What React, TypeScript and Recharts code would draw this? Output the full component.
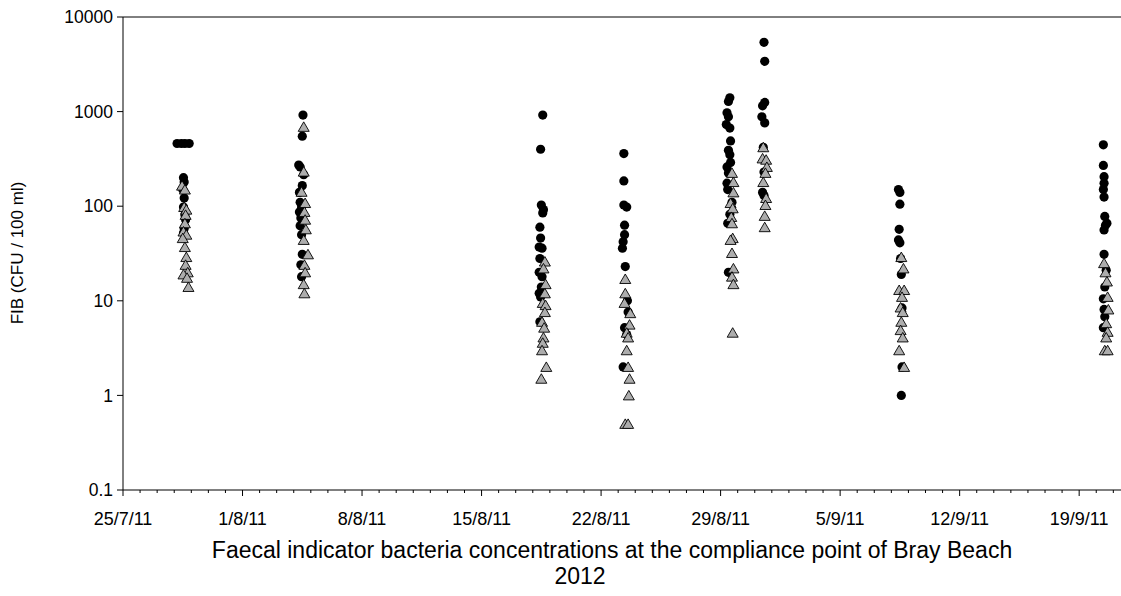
import React from "react";
import { ScatterChart, Scatter, XAxis, YAxis, ReferenceLine } from "recharts";

// [hour of day, CFU / 100 ml]
type Sample = [number, number];

const sampleDays = ["28/7/11", "4/8/11", "18/8/11", "23/8/11", "29/8/11", "31/8/11", "8/9/11", "20/9/11"];

// black circles
const ecoli: Sample[][] = [
  [[4, 460], [10, 460], [15, 460], [21, 460], [13, 200], [14, 180], [12, 150], [14, 122], [13, 98], [15, 81], [16, 72], [14, 58], [13, 52]],
  [[13, 920], [12, 550], [7, 272], [9, 260], [14, 215], [12, 165], [8, 140], [9, 110], [11, 98], [8, 87], [10, 75], [9, 62], [11, 50], [12, 31], [10, 24], [11, 18]],
  [[14, 920], [11, 400], [12, 103], [15, 92], [14, 85], [10, 60], [11, 46], [9, 37], [13, 36], [10, 28], [9, 20], [13, 18], [12, 14], [9, 12], [11, 11], [10, 6]],
  [[8, 360], [8, 185], [8, 103], [12, 98], [9, 63], [9, 50], [7, 42], [6, 36], [10, 23], [13, 10], [14, 7.6], [9, 5.2], [12, 4.4], [7, 2]],
  [[13, 1400], [11, 1280], [9, 970], [11, 880], [8, 730], [13, 670], [14, 490], [11, 390], [13, 350], [14, 290], [9, 260], [11, 225], [9, 175], [10, 150], [16, 110], [13, 82], [10, 66], [11, 20]],
  [[13, 5400], [14, 3400], [14, 1250], [11, 1150], [10, 880], [14, 760], [12, 420], [13, 230], [11, 140], [13, 130]],
  [[10, 150], [12, 140], [12, 105], [11, 57], [10, 44], [12, 41], [13, 28], [14, 19], [15, 8.4], [15, 2], [14, 1.0]],
  [[10, 445], [10, 270], [11, 205], [11, 175], [10, 150], [11, 125], [12, 78], [15, 66], [13, 63], [11, 56], [11, 31], [14, 21], [12, 14], [10, 10.5], [11, 8.1], [12, 6.8], [10, 5.2]],
];

// grey triangles
const enterococci: Sample[][] = [
  [[11, 165], [15, 150], [14, 98], [17, 92], [16, 81], [15, 66], [13, 54], [17, 50], [12, 46], [15, 37], [17, 29], [16, 24], [19, 20], [13, 19], [18, 17.5], [20, 14]],
  [[14, 690], [14, 232], [11, 142], [16, 108], [15, 87], [16, 72], [17, 57], [14, 44], [20, 31], [15, 24], [16, 20], [14, 15], [15, 12]],
  [[17, 26], [15, 22], [18, 15], [17, 12], [14, 9.5], [18, 9], [17, 7.6], [13, 6], [16, 5.2], [15, 4.1], [14, 3.6], [13, 3], [19, 2], [12, 1.5]],
  [[10, 17], [10, 12], [9, 9.5], [17, 7.4], [16, 5.6], [12, 4.6], [14, 4.1], [12, 3], [14, 2], [16, 1.5], [15, 1.0], [10, 0.5], [14, 0.5]],
  [[16, 225], [18, 180], [18, 140], [14, 108], [17, 95], [15, 77], [16, 66], [17, 46], [14, 44], [16, 32], [18, 22], [16, 18], [18, 15], [17, 4.6]],
  [[12, 420], [11, 320], [16, 310], [17, 260], [15, 225], [12, 180], [16, 122], [15, 103], [14, 79], [14, 60]],
  [[14, 29], [17, 22], [11, 13], [18, 13], [15, 11], [13, 8.5], [16, 7.6], [14, 6], [13, 4.9], [16, 4.1], [11, 3], [18, 2]],
  [[11, 25], [13, 20], [15, 16], [16, 11], [17, 8.1], [14, 5.8], [16, 4.7], [14, 4.1], [12, 3], [16, 3]],
];

const dateTicks = ["25/7/11", "1/8/11", "8/8/11", "15/8/11", "22/8/11", "29/8/11", "5/9/11", "12/9/11", "19/9/11"];
const yTicks = [0.1, 1, 10, 100, 1000, 10000];

const DAY = 86400000;
const parseDay = (s: string) => {
  const [d, m, y] = s.split("/").map(Number);
  return Date.UTC(2000 + y, m - 1, d);
};

const xStart = parseDay(dateTicks[0]);
const xEnd = xStart + 58.45 * DAY;
const dayTicks = Array.from({ length: 59 }, (_, i) => xStart + i * DAY);

const toPoints = (sets: Sample[][]) =>
  sets.flatMap((set, i) => set.map(([h, v]) => ({ t: parseDay(sampleDays[i]) + h * 3600000, v })));

const circleData = toPoints(ecoli);
const triangleData = toPoints(enterococci);

const DateTick = (props: any) => {
  const { x, y, payload } = props;
  const label = dateTicks.find((d) => parseDay(d) === payload.value);
  return (
    <g>
      <line x1={x} x2={x} y1={y} y2={y + (label ? 6 : 3)} stroke="#000" strokeWidth={1} />
      {label && (
        <text x={x} y={y + 35} textAnchor="middle" fontSize={18} fill="#000">
          {label}
        </text>
      )}
    </g>
  );
};

const Dot = (p: any) => <circle cx={p.cx} cy={p.cy} r={4.6} fill="#000" />;
const Tri = (p: any) => (
  <path
    d={`M${p.cx},${p.cy - 5} L${p.cx + 5.5},${p.cy + 4.5} L${p.cx - 5.5},${p.cy + 4.5} Z`}
    fill="#adadad"
    stroke="#000"
    strokeWidth={0.9}
  />
);

export default function App() {
  return (
    <div
      style={{
        position: "absolute",
        left: 0,
        top: 0,
        width: 1121,
        height: 596,
        background: "#fff",
        fontFamily: "'Liberation Sans', Arial, sans-serif",
        color: "#000",
      }}
    >
      <ScatterChart width={1121} height={596} margin={{ top: 17, right: 0, bottom: 66, left: 0 }}>
        <XAxis
          type="number"
          dataKey="t"
          domain={[xStart, xEnd]}
          ticks={dayTicks}
          interval={0}
          tickSize={0}
          tickMargin={0}
          tickLine={false}
          tick={<DateTick />}
          axisLine={{ stroke: "#000" }}
          height={40}
          allowDataOverflow
        />
        <YAxis
          type="number"
          dataKey="v"
          scale="log"
          domain={[0.1, 10000]}
          ticks={yTicks}
          interval={0}
          width={123}
          tickSize={6}
          tickMargin={4}
          tickLine={{ stroke: "#000" }}
          axisLine={{ stroke: "#000" }}
          tick={{ fill: "#000", fontSize: 17.5 }}
          tickFormatter={(v: number) => String(v)}
          allowDataOverflow
        />
        <ReferenceLine y={10000} stroke="#000" />
        <Scatter data={circleData} shape={Dot} isAnimationActive={false} />
        <Scatter data={triangleData} shape={Tri} isAnimationActive={false} />
      </ScatterChart>
      <div
        style={{
          position: "absolute",
          left: 18,
          top: 253,
          transform: "translate(-50%, -50%) rotate(-90deg)",
          whiteSpace: "nowrap",
          fontSize: 17,
        }}
      >
        FIB (CFU / 100 ml)
      </div>
      <div
        style={{
          position: "absolute",
          left: 612,
          top: 550,
          transform: "translate(-50%, -50%)",
          whiteSpace: "nowrap",
          fontSize: 23,
        }}
      >
        Faecal indicator bacteria concentrations at the compliance point of Bray Beach
      </div>
      <div
        style={{
          position: "absolute",
          left: 580,
          top: 576,
          transform: "translate(-50%, -50%)",
          whiteSpace: "nowrap",
          fontSize: 23,
        }}
      >
        2012
      </div>
    </div>
  );
}
